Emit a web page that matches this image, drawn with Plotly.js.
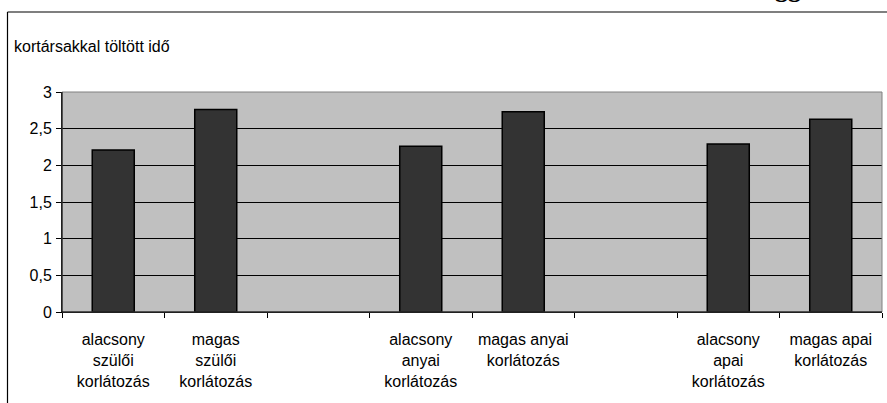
<!DOCTYPE html>
<html>
<head>
<meta charset="utf-8">
<script src="https://cdn.plot.ly/plotly-3.0.1.min.js"></script>
<style>
  html, body { margin: 0; padding: 0; background: #fff; }
  #chart { width: 887px; height: 403px; }
</style>
</head>
<body>
<div id="chart"></div>
<script>
// Data
const categoryIds = ["c1", "c2", "c3", "c4", "c5", "c6", "c7", "c8"];
const categoryLabels = [
  "alacsony<br>szülői<br>korlátozás",
  "magas<br>szülői<br>korlátozás",
  "",
  "alacsony<br>anyai<br>korlátozás",
  "magas anyai<br>korlátozás",
  "",
  "alacsony<br>apai<br>korlátozás",
  "magas apai<br>korlátozás"
];
const values = [2.21, 2.76, null, 2.26, 2.73, null, 2.29, 2.63];
const yTickValues = [0, 0.5, 1, 1.5, 2, 2.5, 3];
const yTitle = "kortársakkal töltött idő";
const topCaption = "ggi";

const W = 887, H = 403;
const L = 62, R = 5, T = 92, B = 91;
const pw = W - L - R, ph = H - T - B;
const px = x => (x - L) / pw;
const py = y => (H - B - y) / ph;

const font = "Arial, 'Liberation Sans', sans-serif";

const trace = {
  type: "bar",
  x: categoryIds,
  y: values,
  marker: { color: "#333333", line: { color: "#000000", width: 1.5 } },
  hoverinfo: "none"
};

const layout = {
  width: W, height: H,
  margin: { l: L, r: R, t: T, b: B, pad: 0 },
  paper_bgcolor: "#ffffff",
  plot_bgcolor: "#C0C0C0",
  separators: ", ",
  bargap: 0.59,
  showlegend: false,
  font: { family: font, size: 16, color: "#000" },
  xaxis: {
    type: "category",
    tickmode: "array",
    tickvals: categoryIds,
    ticktext: categoryLabels,
    tickson: "boundaries",
    ticks: "outside",
    ticklen: 5,
    tickcolor: "#000",
    showline: true,
    linecolor: "#000",
    linewidth: 1,
    showgrid: false,
    tickangle: 0,
    ticklabelstandoff: 13,
    tickfont: { family: font, size: 16, color: "#000" },
    fixedrange: true
  },
  yaxis: {
    range: [0, 3],
    tickmode: "array",
    tickvals: yTickValues,
    ticks: "outside",
    ticklen: 5,
    tickcolor: "#000",
    showline: true,
    linecolor: "#000",
    linewidth: 1,
    showgrid: true,
    gridcolor: "#000",
    gridwidth: 1,
    zeroline: false,
    tickfont: { family: font, size: 16, color: "#000" },
    ticklabelstandoff: 1,
    fixedrange: true
  },
  shapes: [
    { type: "rect", xref: "paper", yref: "paper", x0: 0, x1: 1, y0: 0, y1: 1,
      line: { color: "#808080", width: 1 }, layer: "above" },
    { type: "line", xref: "paper", yref: "paper", x0: 0, x1: 0, y0: 0, y1: 1,
      line: { color: "#000", width: 1 }, layer: "above" },
    { type: "line", xref: "paper", yref: "paper", x0: 0, x1: 1, y0: 0, y1: 0,
      line: { color: "#000", width: 1 }, layer: "above" },
    { type: "line", xref: "paper", yref: "paper", x0: px(7.5), x1: px(7.5), y0: py(12), y1: py(405),
      line: { color: "#000", width: 1.2 } },
    { type: "line", xref: "paper", yref: "paper", x0: px(7.5), x1: px(890), y0: py(12), y1: py(12),
      line: { color: "#000", width: 1.2 } }
  ],
  annotations: [
    { text: yTitle, xref: "paper", yref: "paper", x: px(12), y: py(46),
      xanchor: "left", yanchor: "middle", showarrow: false,
      font: { family: font, size: 16, color: "#000" } },
    { text: topCaption, xref: "paper", yref: "paper", x: px(810), y: py(5),
      xanchor: "right", yanchor: "bottom", showarrow: false,
      font: { family: "'Liberation Serif', 'Times New Roman', serif", size: 26, color: "#000", weight: "bold" } }
  ]
};

Plotly.newPlot("chart", [trace], layout, { staticPlot: true, displayModeBar: false });
</script>
</body>
</html>
